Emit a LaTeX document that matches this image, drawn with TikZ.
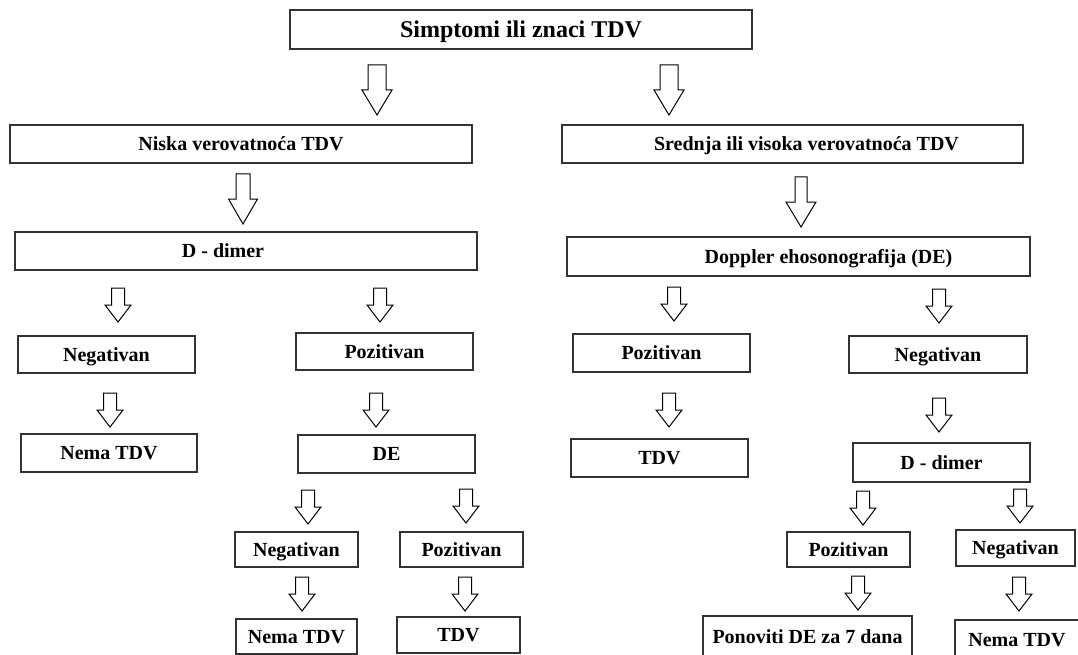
\documentclass[tikz,border=0pt]{standalone}
\usepackage{fontspec}
\setmainfont{Liberation Serif}
\usepackage{tikz}
\tikzset{
  pics/downarrow/.style n args={3}{code={
    \draw[line width=1pt, line join=miter, fill=white] (-#1,0) -- (#1,0) -- (#1,#3) -- (#2,#3) -- (0,2*#3) -- (-#2,#3) -- (-#1,#3) -- cycle;
  }}
}

\begin{document}
\begin{tikzpicture}[x=1pt, y=-1pt,
  box/.style={draw=black!80, line width=1.3pt, fill=white, inner sep=0pt,
    font=\fontsize{20}{24}\selectfont\bfseries, text height=13pt, text depth=0pt},
  titlebox/.style={box, minimum width=462pt, minimum height=39pt,
    font=\fontsize{24}{28}\selectfont\bfseries, text height=16pt},
  widebox/.style={box, minimum width=462pt, minimum height=38pt},
  midbox/.style={box, minimum width=177pt, minimum height=38pt},
  smallbox/.style={box, minimum width=123pt, minimum height=35pt}]
\path[fill=white, use as bounding box] (0,0) rectangle (1078,655);

% level 0 and 1
\node[titlebox] (simptomi) at (521,29.5) {Simptomi ili znaci TDV};
\pic at (377,65) {downarrow={9}{15}{25}};
\pic at (669,65) {downarrow={9}{15}{25}};
\node[widebox] (niska) at (241,144) {Niska verovatno\'ca TDV};
\node[widebox, minimum width=461pt] (srednja) at (792.5,144) {\hspace*{28pt}Srednja ili visoka verovatno\'ca TDV};

% level 2
\pic at (243,174) {downarrow={7}{14.5}{25}};
\pic at (801,177) {downarrow={6}{15}{25}};
\node[widebox] (ddimerL) at (246,251) {D - dimer\hspace*{46pt}};
\node[widebox, minimum width=463pt, minimum height=39pt] (doppler) at (798.5,256.5) {\hspace*{60pt}Doppler ehosonografija (DE)};

% left branch
\pic at (118,288) {downarrow={6.5}{13}{17}};
\pic at (380,288) {downarrow={6.5}{13}{17}};
\node[midbox, minimum height=37pt] (negL) at (106.5,354.5) {Negativan};
\node[midbox, minimum height=37pt] (pozL) at (384.5,351.5) {Pozitivan};
\pic at (110,393) {downarrow={6.5}{13}{17}};
\pic at (376,393) {downarrow={6.5}{13}{17}};
\node[midbox, minimum width=176pt] (nemaL) at (109,453) {Nema TDV};
\node[midbox] (deL) at (386.5,454) {DE};
\pic at (308,490) {downarrow={6.5}{13}{17}};
\pic at (466,489) {downarrow={6.5}{13}{17}};
\node[smallbox] (negLL) at (296.5,549.5) {Negativan};
\node[smallbox] (pozLR) at (461.5,549.5) {Pozitivan};
\pic at (302,577) {downarrow={6.5}{13}{17}};
\pic at (465,577) {downarrow={6.5}{13}{17}};
\node[smallbox, minimum width=121pt] (nemaLL) at (296.5,636.5) {Nema TDV};
\node[smallbox, minimum height=36pt] (tdvLR) at (458.5,635) {TDV};

% right branch
\pic at (674,287) {downarrow={6.5}{13}{17}};
\pic at (939,289) {downarrow={6.5}{13}{17}};
\node[midbox] (pozR) at (661.5,353) {Pozitivan};
\node[midbox, minimum width=178pt, minimum height=37pt] (negR) at (938,354.5) {Negativan};
\pic at (669,393) {downarrow={6.5}{13}{17}};
\pic at (939,398) {downarrow={6.5}{13}{17}};
\node[midbox] (tdvR) at (659.5,458) {TDV};
\node[midbox, minimum height=39pt] (ddimerR) at (941.5,462.5) {D - dimer};
\pic at (863,491) {downarrow={6.5}{13}{17}};
\pic at (1020,489) {downarrow={6.5}{13}{17}};
\node[smallbox] (pozRL) at (848.5,549.5) {Pozitivan};
\node[smallbox, minimum width=119pt, minimum height=36pt] (negRR) at (1015.5,548) {Negativan};
\pic at (858,576) {downarrow={6.5}{13}{17}};
\pic at (1019,577) {downarrow={6.5}{13}{17}};
\node[smallbox, minimum width=209pt, minimum height=42pt] (ponoviti) at (807.5,637) {Ponoviti DE za 7 dana};
\node[smallbox, minimum width=124pt, minimum height=40pt] (nemaRR) at (1017,640) {Nema TDV};
\end{tikzpicture}
\end{document}
